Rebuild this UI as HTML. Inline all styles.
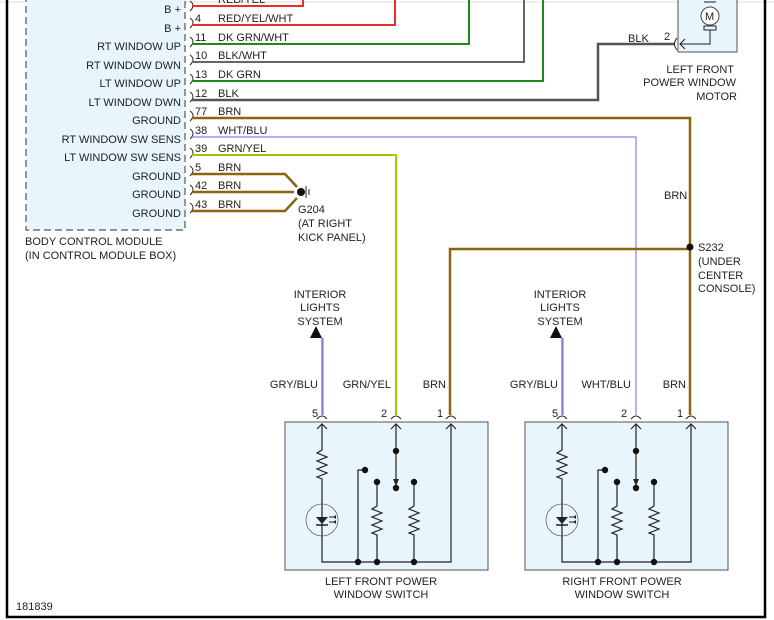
<!DOCTYPE html>
<html><head><meta charset="utf-8"><style>
html,body{margin:0;padding:0;background:#fff;}
svg{display:block;font-family:"Liberation Sans",sans-serif;}
text{font-size:11px;fill:#222;}
</style></head><body>
<svg width="774" height="620" viewBox="0 0 774 620" xmlns="http://www.w3.org/2000/svg">
<defs>
<g id="sw">
  <rect x="285" y="422" width="203" height="148" fill="#e8f5fc" stroke="#555" stroke-width="1"/>
  <g fill="none" stroke="#222" stroke-width="1.2">
    <path d="M322,424 V450 l-5,3 10,4 -10,4 10,4 -10,4 10,4 -10,4 5,2 V562 H451 V424"/>
    <path d="M317,429 l5,-5 5,5 M446,429 l5,-5 5,5 M391,429 l5,-5 5,5"/>
    <path d="M396,424 V486"/>
    <path d="M358,562 V470 H364"/>
    <path d="M377,482 V506 l-5,3 10,4 -10,4 10,4 -10,4 10,4 -10,4 5,2 V562"/>
    <path d="M414,482 V506 l-5,3 10,4 -10,4 10,4 -10,4 10,4 -10,4 5,2 V562"/>
    <circle cx="322" cy="520" r="16" stroke="#666" stroke-width="0.8"/>
  </g>
  <path d="M316,517 h12 l-6,7 z" fill="#222"/>
  <path d="M316,525 h12" stroke="#222" stroke-width="1.5"/>
  <path d="M329,517 h7 M329,522 h7" stroke="#222" stroke-width="1"/>
  <path d="M336,515 l-3,2 3,2z M336,520 l-3,2 3,2z" fill="#222"/>
  <path d="M393,479 h6 l-3,7z" fill="#222"/>
  <g fill="#111">
    <circle cx="396" cy="451" r="3.2"/><circle cx="396" cy="488" r="3.2"/>
    <circle cx="365" cy="470" r="3.2"/><circle cx="377" cy="482" r="3.2"/><circle cx="414" cy="482" r="3.2"/>
    <circle cx="358" cy="562" r="3.2"/><circle cx="377" cy="562" r="3.2"/><circle cx="414" cy="562" r="3.2"/>
  </g>
  <g fill="none" stroke="#222" stroke-width="1">
    <path d="M317,419 q5,-6 10,0 M391,419 q5,-6 10,0 M446,419 q5,-6 10,0"/>
  </g>
  <text x="312" y="417" font-size="11">5</text>
  <text x="381" y="417">2</text>
  <text x="437" y="417">1</text>
</g>
</defs>

<!-- border -->
<line x1="0" y1="2" x2="774" y2="2" stroke="#ddd" stroke-width="1"/>
<rect x="7" y="-5" width="758" height="622" fill="none" stroke="#000" stroke-width="2.5"/>

<!-- module -->
<rect x="26" y="-5" width="159" height="235" fill="#e8f5fc" stroke="#555" stroke-width="1.2" stroke-dasharray="7,4"/>
<g text-anchor="end">
<text x="181" y="13">B +</text>
<text x="181" y="32">B +</text>
<text x="181" y="50">RT WINDOW UP</text>
<text x="181" y="69">RT WINDOW DWN</text>
<text x="181" y="87">LT WINDOW UP</text>
<text x="181" y="106">LT WINDOW DWN</text>
<text x="181" y="124">GROUND</text>
<text x="181" y="143">RT WINDOW SW SENS</text>
<text x="181" y="161">LT WINDOW SW SENS</text>
<text x="181" y="180">GROUND</text>
<text x="181" y="198">GROUND</text>
<text x="181" y="217">GROUND</text>
</g>
<text x="25" y="245">BODY CONTROL MODULE</text>
<text x="25" y="259">(IN CONTROL MODULE BOX)</text>

<!-- connector arcs -->
<g fill="none" stroke="#222" stroke-width="1">
<path d="M190,1 q6,4 0,10 M190,18 q6,4 0,10 M190,37 q6,4 0,10 M190,55 q6,4 0,10 M190,74 q6,4 0,10 M190,92 q6,4 0,10 M190,111 q6,4 0,10 M190,129 q6,4 0,10 M190,148 q6,4 0,10 M190,166 q6,4 0,10 M190,185 q6,4 0,10 M190,203 q6,4 0,10"/>
</g>

<!-- wires -->
<g fill="none" stroke-width="2">
<path d="M192,6 H303 V0" stroke="#e8302a"/>
<path d="M192,25 H395 V0" stroke="#e8302a"/>
<path d="M192,44 H469 V0" stroke="#1a8a1a"/>
<path d="M192,62 H524 V0" stroke="#666"/>
<path d="M192,81 H543 V0" stroke="#1a8a1a"/>
<path d="M192,100 H598 V44 H674" stroke="#555" stroke-width="2.5"/>
<path d="M192,118 H690 V415" stroke="#8b6410" stroke-width="2.5"/>
<path d="M192,137 H636 V415" stroke="#8080f0" stroke-width="1.2"/>
<path d="M192,155 H396 V415" stroke="#9c0" stroke-width="2"/>
<path d="M192,174 H285 L297,187 M192,192 H294 M192,211 H285 L297,198" stroke="#8b6410" stroke-width="2.5"/>
<path d="M450,415 V249 H690" stroke="#8b6410" stroke-width="2.5"/>
<path d="M322,415 V338" stroke="#aaa" stroke-width="2"/>
<path d="M323,415 V338" stroke="#6060ff" stroke-width="1"/>
<path d="M562,415 V338" stroke="#aaa" stroke-width="2"/>
<path d="M563,415 V338" stroke="#6060ff" stroke-width="1"/>
</g>
<path d="M394,155 H396" stroke="#fc0"/>
<circle cx="690" cy="247" r="3.5" fill="#111"/>
<circle cx="301" cy="192" r="4" fill="#111"/>
<path d="M306,186 v12 M309,189 v6" stroke="#222" stroke-width="1"/>
<path d="M316,326 l6,12 h-12z M556,326 l6,12 h-12z" fill="#111"/>

<g font-size="11">
<text x="218" y="3">RED/YEL</text>
<text x="195" y="22">4</text><text x="218" y="22">RED/YEL/WHT</text>
<text x="195" y="41">11</text><text x="218" y="41">DK GRN/WHT</text>
<text x="195" y="59">10</text><text x="218" y="59">BLK/WHT</text>
<text x="195" y="78">13</text><text x="218" y="78">DK GRN</text>
<text x="195" y="97">12</text><text x="218" y="97">BLK</text>
<text x="195" y="115">77</text><text x="218" y="115">BRN</text>
<text x="195" y="134">38</text><text x="218" y="134">WHT/BLU</text>
<text x="195" y="152">39</text><text x="218" y="152">GRN/YEL</text>
<text x="195" y="171">5</text><text x="218" y="171">BRN</text>
<text x="195" y="189">42</text><text x="218" y="189">BRN</text>
<text x="195" y="208">43</text><text x="218" y="208">BRN</text>
<text x="298" y="213">G204</text>
<text x="298" y="227">(AT RIGHT</text>
<text x="298" y="241">KICK PANEL)</text>
<text x="628" y="42">BLK</text>
<text x="664" y="40">2</text>
<text x="664" y="199">BRN</text>
<text x="698" y="251">S232</text>
<text x="698" y="265">(UNDER</text>
<text x="698" y="279">CENTER</text>
<text x="698" y="292">CONSOLE)</text>
<g text-anchor="middle">
<text x="320" y="298">INTERIOR</text><text x="320" y="311">LIGHTS</text><text x="320" y="325">SYSTEM</text>
<text x="560" y="298">INTERIOR</text><text x="560" y="311">LIGHTS</text><text x="560" y="325">SYSTEM</text>
<text x="381" y="585">LEFT FRONT POWER</text><text x="381" y="598">WINDOW SWITCH</text>
<text x="622" y="585">RIGHT FRONT POWER</text><text x="622" y="598">WINDOW SWITCH</text>
</g>
<g text-anchor="end">
<text x="318" y="388">GRY/BLU</text><text x="391" y="388">GRN/YEL</text><text x="446" y="388">BRN</text>
<text x="558" y="388">GRY/BLU</text><text x="631" y="388">WHT/BLU</text><text x="686" y="388">BRN</text>
<text x="734" y="73">LEFT FRONT</text><text x="736" y="86">POWER WINDOW</text><text x="737" y="100">MOTOR</text>
</g>
<text x="16" y="610">181839</text>
</g>

<!-- motor -->
<rect x="678" y="-2" width="59" height="54" fill="#e8f5fc" stroke="#555"/>
<circle cx="710" cy="16" r="9" fill="#fff" stroke="#444"/>
<text x="705" y="20" font-size="11">M</text>
<path d="M704,2 h12 M704,26 h12 v4 h-12z M710,30 V44 H680 M685,39 l-5,5 5,5" fill="none" stroke="#222"/>
<path d="M677,38 q-5,6 0,12" fill="none" stroke="#222"/>

<use href="#sw"/>
<use href="#sw" transform="translate(240,0)"/>
<text x="1" y="1"> </text>
</svg>
</body></html>
